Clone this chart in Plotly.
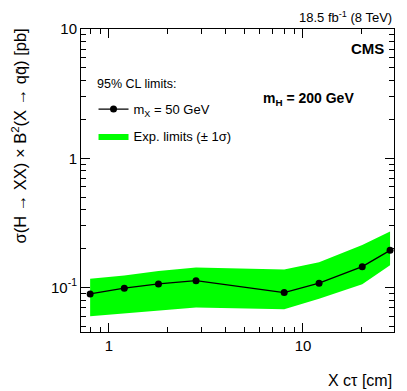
import plotly.graph_objects as go

# X lifetime (c tau) in cm and the expected limits
ctau = [0.80, 1.20, 1.80, 2.81, 8.0, 12.1, 20.2, 28.1]
limit = [0.0893, 0.0988, 0.1066, 0.113, 0.0915, 0.108, 0.145, 0.194]
band_up = [0.117, 0.124, 0.134, 0.143, 0.138, 0.157, 0.213, 0.271]
band_down = [0.060, 0.063, 0.067, 0.070, 0.068, 0.082, 0.106, 0.149]

font = "Liberation Sans, Arial, sans-serif"
green = "#00ff00"

fig = go.Figure()

# green +-1 sigma band
fig.add_trace(go.Scatter(x=ctau, y=band_down, mode="lines", line=dict(width=0, color=green),
                         showlegend=False, hoverinfo="skip", legendgroup="band"))
fig.add_trace(go.Scatter(x=ctau, y=band_up, mode="lines", line=dict(width=0, color=green),
                         fill="tonexty", fillcolor=green, name="Exp. limits (± 1σ)",
                         legendrank=2, legendgroup="band"))
# limit line
fig.add_trace(go.Scatter(x=ctau, y=limit, mode="lines+markers",
                         line=dict(color="black", width=1.3),
                         marker=dict(color="black", size=7),
                         name="m<sub>X</sub> = 50 GeV", legendrank=1, legendgroup="lim"))

minor_x = [m * 10 ** e for e in (-1, 0, 1) for m in range(2, 10)]
minor_y = [m * 10 ** e for e in (-2, -1, 0) for m in range(2, 10)]

axis_common = dict(type="log", showgrid=False, zeroline=False, showline=True,
                   linecolor="black", linewidth=1, mirror="allticks",
                   ticks="inside", ticklen=9, tickcolor="black",
                   tickfont=dict(size=15, color="black", family=font))

fig.update_xaxes(**axis_common, range=[-0.144, 1.469],
                 tickvals=[1, 10], ticktext=["1", "10"],
                 minor=dict(ticks="inside", ticklen=5, tickcolor="black",
                            tickmode="array", tickvals=minor_x))
fig.update_yaxes(**axis_common, range=[-1.344, 1.0],
                 tickvals=[0.1, 1, 10], ticktext=["10<sup>-1</sup>", "1", "10"],
                 minor=dict(ticks="inside", ticklen=5, tickcolor="black",
                            tickmode="array", tickvals=minor_y))

# page body has an 8px margin, so the figure is a bit smaller than the window
fig.update_layout(
    width=399, height=383,
    margin=dict(l=73, r=13, t=18, b=59),
    plot_bgcolor="white", paper_bgcolor="white",
    font=dict(family=font, color="black", size=13),
    legend=dict(x=0.04, y=0.785, xanchor="left", yanchor="top", traceorder="grouped",
                bgcolor="rgba(0,0,0,0)", font=dict(size=13), itemwidth=30,
                tracegroupgap=7),
    annotations=[
        dict(text="95% CL limits:", x=0.045, y=0.817, xref="paper", yref="paper",
             xanchor="left", yanchor="middle", showarrow=False, font=dict(size=12.5)),
        dict(text="18.5 fb<sup>-1</sup> (8 TeV)", x=1, y=1.005, xref="paper", yref="paper",
             xanchor="right", yanchor="bottom", showarrow=False, font=dict(size=13)),
        dict(text="<b>CMS</b>", x=0.975, y=0.935, xref="paper", yref="paper",
             xanchor="right", yanchor="middle", showarrow=False, font=dict(size=15)),
        dict(text="<b>m<sub>H</sub> = 200 GeV</b>", x=0.88, y=0.77, xref="paper", yref="paper",
             xanchor="right", yanchor="middle", showarrow=False, font=dict(size=14)),
        dict(text="X cτ [cm]", x=1, y=-0.125, xref="paper", yref="paper",
             xanchor="right", yanchor="top", showarrow=False, font=dict(size=16)),
        dict(text="σ(H → XX) × B<sup>2</sup>(X → qq̄) [pb]", x=-0.195, y=1.01, xref="paper", yref="paper",
             xanchor="center", yanchor="top", textangle=-90, showarrow=False, font=dict(size=16.5)),
    ],
)

fig.write_html("out.html")
